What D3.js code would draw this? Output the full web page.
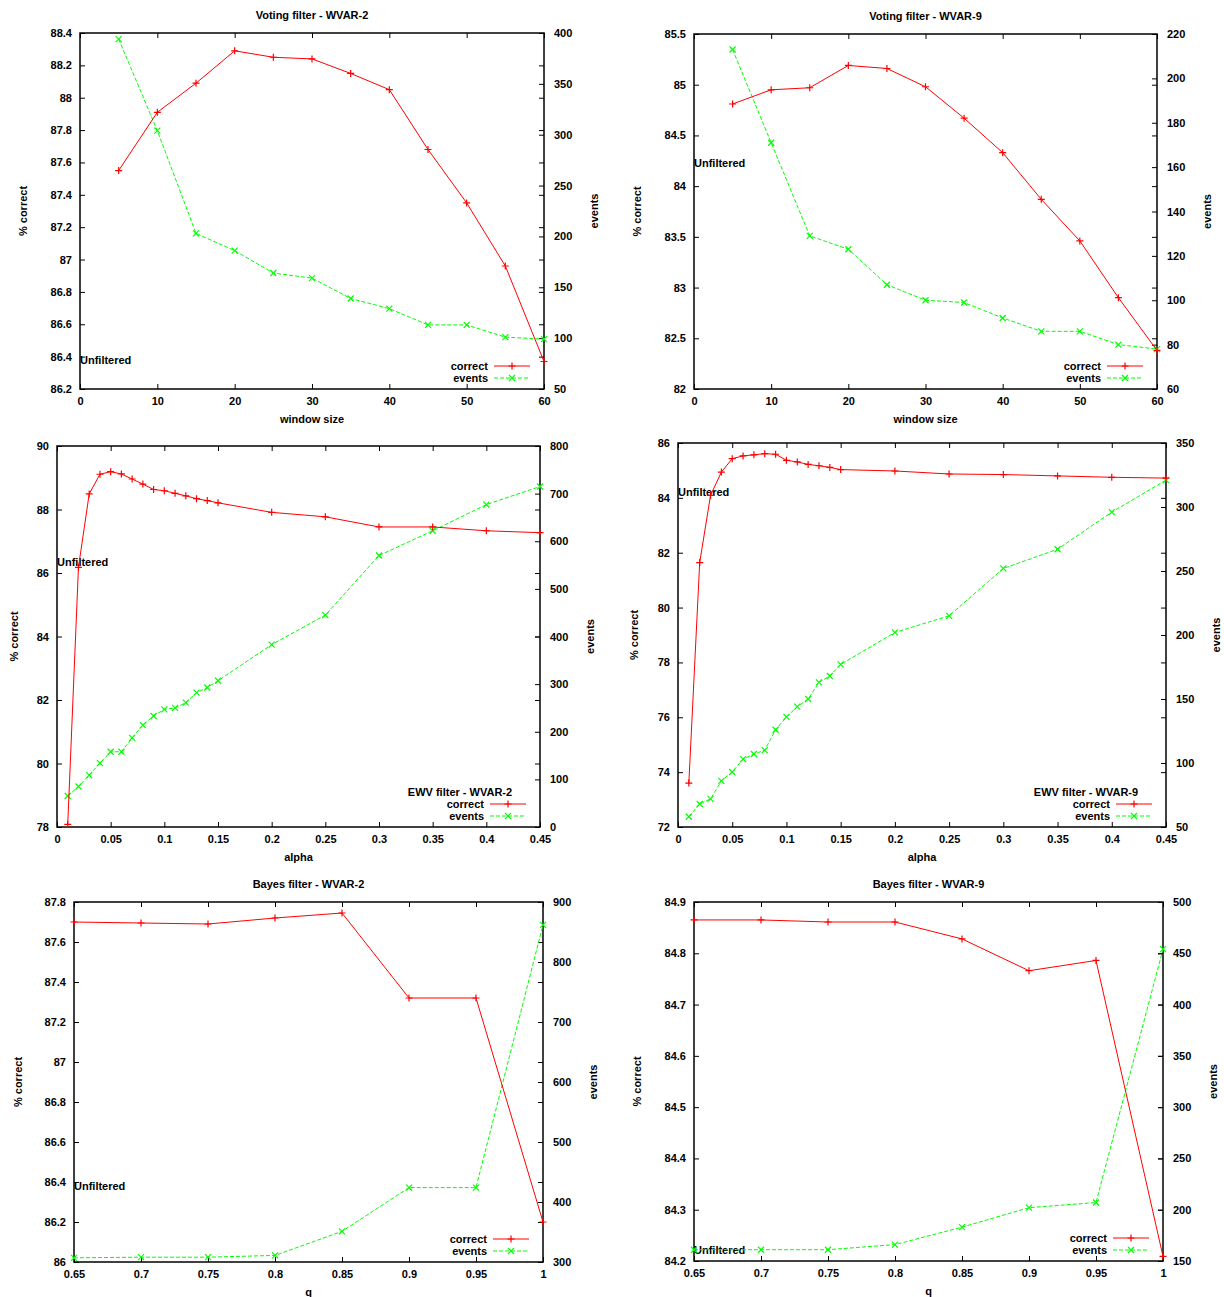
<!DOCTYPE html>
<html>
<head>
<meta charset="utf-8">
<script src="https://cdn.jsdelivr.net/npm/d3@7"></script>
<style>
  html, body { margin: 0; padding: 0; background: #fff; }
  svg { display: block; }
  text { font-family: "Liberation Sans", Arial, sans-serif; font-size: 11px; font-weight: bold; fill: #000; }
</style>
</head>
<body>
<div id="chart"></div>
<script>
// ---- data ----
const windowSize = [5, 10, 15, 20, 25, 30, 35, 40, 45, 50, 55, 60];
const voting2Correct = [87.55, 87.91, 88.09, 88.29, 88.25, 88.24, 88.15, 88.05, 87.68, 87.35, 86.96, 86.37];
const voting2Events  = [394, 304, 203, 186, 164, 159, 139, 129, 113, 113, 101, 99];
const voting2Unfiltered = 86.38;
const voting9Correct = [84.81, 84.95, 84.97, 85.19, 85.16, 84.98, 84.67, 84.33, 83.87, 83.46, 82.90, 82.38];
const voting9Events  = [213, 171, 129, 123, 107, 100, 99, 92, 86, 86, 80, 78];
const voting9Unfiltered = 84.23;

const alpha = [0.01, 0.02, 0.03, 0.04, 0.05, 0.06, 0.07, 0.08, 0.09, 0.1, 0.11, 0.12, 0.13, 0.14, 0.15,
               0.2, 0.25, 0.3, 0.35, 0.4, 0.45];
const ewv2Correct = [78.08, 86.18, 88.49, 89.11, 89.19, 89.12, 88.96, 88.80, 88.63, 88.59, 88.51, 88.43,
                     88.34, 88.28, 88.21, 87.91, 87.77, 87.45, 87.45, 87.33, 87.27];
const ewv2Events  = [65, 85, 109, 134, 158, 158, 187, 214, 233, 247, 250, 261, 282, 293, 307,
                     383, 445, 570, 622, 677, 715];
const ewv2Unfiltered = 86.35;
const ewv9Correct = [73.60, 81.64, 84.09, 84.94, 85.43, 85.53, 85.57, 85.61, 85.59, 85.37, 85.31, 85.22,
                     85.17, 85.11, 85.03, 84.98, 84.87, 84.85, 84.80, 84.75, 84.72];
const ewv9Events  = [58, 68, 72, 86, 93, 103, 107, 110, 126, 136, 144, 150, 163, 168, 177,
                     202, 215, 252, 267, 296, 321];
const ewv9Unfiltered = 84.21;

const qValues = [0.65, 0.7, 0.75, 0.8, 0.85, 0.9, 0.95, 1];
const bayes2Correct = [87.70, 87.695, 87.69, 87.72, 87.745, 87.32, 87.32, 86.20];
const bayes2Events  = [307, 308, 308, 311, 351, 424, 424, 862];
const bayes2Unfiltered = 86.38;
const bayes9Correct = [84.865, 84.865, 84.861, 84.861, 84.828, 84.766, 84.786, 84.209];
const bayes9Events  = [161, 161, 161, 166, 183, 202, 207, 454];
const bayes9Unfiltered = 84.222;

// ---- tick values ----
const windowTicks = [0, 10, 20, 30, 40, 50, 60];
const alphaTicks  = [0, 0.05, 0.1, 0.15, 0.2, 0.25, 0.3, 0.35, 0.4, 0.45];
const qTicks      = [0.65, 0.7, 0.75, 0.8, 0.85, 0.9, 0.95, 1];
const voting2Ticks  = [86.2, 86.4, 86.6, 86.8, 87, 87.2, 87.4, 87.6, 87.8, 88, 88.2, 88.4];
const voting2Ticks2 = [50, 100, 150, 200, 250, 300, 350, 400];
const voting9Ticks  = [82, 82.5, 83, 83.5, 84, 84.5, 85, 85.5];
const voting9Ticks2 = [60, 80, 100, 120, 140, 160, 180, 200, 220];
const ewv2Ticks  = [78, 80, 82, 84, 86, 88, 90];
const ewv2Ticks2 = [0, 100, 200, 300, 400, 500, 600, 700, 800];
const ewv9Ticks  = [72, 74, 76, 78, 80, 82, 84, 86];
const ewv9Ticks2 = [50, 100, 150, 200, 250, 300, 350];
const bayes2Ticks  = [86, 86.2, 86.4, 86.6, 86.8, 87, 87.2, 87.4, 87.6, 87.8];
const bayes2Ticks2 = [300, 400, 500, 600, 700, 800, 900];
const bayes9Ticks  = [84.2, 84.3, 84.4, 84.5, 84.6, 84.7, 84.8, 84.9];
const bayes9Ticks2 = [150, 200, 250, 300, 350, 400, 450, 500];

// ---- panels: data references + layout ----
const panels = [
  { title: 'Voting filter - WVAR-2', xlabel: 'window size', x: windowSize, xTicks: windowTicks,
    correct: voting2Correct, events: voting2Events, unfiltered: voting2Unfiltered,
    yTicks: voting2Ticks, y2Ticks: voting2Ticks2,
    left: 80, right: 544, top: 33, bottom: 389, ylabelDx: -57 },
  { title: 'Voting filter - WVAR-9', xlabel: 'window size', x: windowSize, xTicks: windowTicks,
    correct: voting9Correct, events: voting9Events, unfiltered: voting9Unfiltered,
    yTicks: voting9Ticks, y2Ticks: voting9Ticks2,
    left: 694, right: 1157, top: 34, bottom: 389, ylabelDx: -57 },
  { keyTitle: 'EWV filter - WVAR-2', xlabel: 'alpha', x: alpha, xTicks: alphaTicks,
    correct: ewv2Correct, events: ewv2Events, unfiltered: ewv2Unfiltered,
    yTicks: ewv2Ticks, y2Ticks: ewv2Ticks2,
    left: 57, right: 540, top: 446, bottom: 827, ylabelDx: -43 },
  { keyTitle: 'EWV filter - WVAR-9', xlabel: 'alpha', x: alpha, xTicks: alphaTicks,
    correct: ewv9Correct, events: ewv9Events, unfiltered: ewv9Unfiltered,
    yTicks: ewv9Ticks, y2Ticks: ewv9Ticks2,
    left: 678, right: 1166, top: 443, bottom: 827, ylabelDx: -44 },
  { title: 'Bayes filter - WVAR-2', xlabel: 'q', x: qValues, xTicks: qTicks,
    correct: bayes2Correct, events: bayes2Events, unfiltered: bayes2Unfiltered,
    yTicks: bayes2Ticks, y2Ticks: bayes2Ticks2,
    left: 74, right: 543, top: 902, bottom: 1262, ylabelDx: -56 },
  { title: 'Bayes filter - WVAR-9', xlabel: 'q', x: qValues, xTicks: qTicks,
    correct: bayes9Correct, events: bayes9Events, unfiltered: bayes9Unfiltered,
    yTicks: bayes9Ticks, y2Ticks: bayes9Ticks2,
    left: 694, right: 1163, top: 902, bottom: 1261, ylabelDx: -57 }
];

const RED = '#ff0000', GREEN = '#00ff00';
const TICK = 5;
const fmt = v => String(+v.toFixed(2));
const plusPath = 'M-3.5,0H3.5M0,-3.5V3.5';
const crossPath = 'M-3,-3L3,3M-3,3L3,-3';

const svg = d3.select('#chart').append('svg')
  .attr('width', 1224)
  .attr('height', 1297);

function styleAxis(g) {
  g.select('.domain').remove();
  g.attr('font-family', null).attr('font-size', null);
  g.selectAll('line').attr('stroke', '#000').attr('stroke-width', 1);
  g.selectAll('text').attr('fill', '#000');
}

function drawPanel(p) {
  const g = svg.append('g');
  const ext = d3.extent(p.xTicks);
  const x = d3.scaleLinear().domain(ext).range([p.left, p.right]);
  const y = d3.scaleLinear().domain(d3.extent(p.yTicks)).range([p.bottom, p.top]);
  const y2 = d3.scaleLinear().domain(d3.extent(p.y2Ticks)).range([p.bottom, p.top]);
  const midX = (p.left + p.right) / 2;
  const midY = (p.top + p.bottom) / 2;

  // axes (ticks pointing inward, y1 and x mirrored)
  g.append('g').attr('transform', `translate(0,${p.bottom})`)
    .call(d3.axisBottom(x).tickValues(p.xTicks).tickSize(-TICK).tickPadding(8).tickFormat(fmt))
    .call(styleAxis);
  g.append('g').attr('transform', `translate(0,${p.top})`)
    .call(d3.axisTop(x).tickValues(p.xTicks).tickSize(-TICK).tickFormat(''))
    .call(styleAxis);
  g.append('g').attr('transform', `translate(${p.left},0)`)
    .call(d3.axisLeft(y).tickValues(p.yTicks).tickSize(-TICK).tickPadding(8).tickFormat(fmt))
    .call(styleAxis);
  g.append('g').attr('transform', `translate(${p.right},0)`)
    .call(d3.axisRight(y).tickValues(p.yTicks).tickSize(-TICK).tickFormat(''))
    .call(styleAxis);
  g.append('g').attr('transform', `translate(${p.right},0)`)
    .call(d3.axisRight(y2).tickValues(p.y2Ticks).tickSize(-TICK).tickPadding(10).tickFormat(fmt))
    .call(styleAxis);

  // border
  g.append('rect')
    .attr('x', p.left).attr('y', p.top)
    .attr('width', p.right - p.left).attr('height', p.bottom - p.top)
    .attr('fill', 'none').attr('stroke', '#000').attr('stroke-width', 1.5);

  // labels
  if (p.title) {
    g.append('text').attr('x', midX).attr('y', p.top - 18)
      .attr('text-anchor', 'middle').attr('dy', '0.35em').text(p.title);
  }
  g.append('text').attr('x', midX).attr('y', p.bottom + 30)
    .attr('text-anchor', 'middle').attr('dy', '0.35em').text(p.xlabel);
  g.append('text')
    .attr('transform', `translate(${p.left + p.ylabelDx},${midY}) rotate(-90)`)
    .attr('text-anchor', 'middle').attr('dy', '0.35em').text('% correct');
  g.append('text')
    .attr('transform', `translate(${p.right + 50},${midY}) rotate(-90)`)
    .attr('text-anchor', 'middle').attr('dy', '0.35em').text('events');

  g.append('text').attr('x', p.left).attr('y', y(p.unfiltered))
    .attr('dy', '0.35em').text('Unfiltered');

  // series
  const rows = p.x.map((v, i) => ({ x: v, c: p.correct[i], e: p.events[i] }));
  const plot = g.append('g');

  plot.append('path').datum(rows)
    .attr('fill', 'none').attr('stroke', GREEN).attr('stroke-width', 1)
    .attr('stroke-dasharray', '4,2')
    .attr('d', d3.line().x(d => x(d.x)).y(d => y2(d.e)));
  plot.selectAll('.ev').data(rows).enter().append('path')
    .attr('class', 'ev')
    .attr('transform', d => `translate(${x(d.x)},${y2(d.e)})`)
    .attr('d', crossPath).attr('stroke', GREEN).attr('stroke-width', 1.2).attr('fill', 'none');

  plot.append('path').datum(rows)
    .attr('fill', 'none').attr('stroke', RED).attr('stroke-width', 1)
    .attr('d', d3.line().x(d => x(d.x)).y(d => y(d.c)));
  plot.selectAll('.co').data(rows).enter().append('path')
    .attr('class', 'co')
    .attr('transform', d => `translate(${x(d.x)},${y(d.c)})`)
    .attr('d', plusPath).attr('stroke', RED).attr('stroke-width', 1.2).attr('fill', 'none');

  // key (bottom right)
  const key = g.append('g');
  if (p.keyTitle) {
    key.append('text').attr('x', p.right - 80).attr('y', p.bottom - 35)
      .attr('text-anchor', 'middle').attr('dy', '0.35em').text(p.keyTitle);
  }
  const entries = [
    { label: 'correct', color: RED, dash: null, mark: plusPath, dy: -23 },
    { label: 'events', color: GREEN, dash: '4,2', mark: crossPath, dy: -11 }
  ];
  entries.forEach(en => {
    const ky = p.bottom + en.dy;
    key.append('text').attr('x', p.right - 56).attr('y', ky)
      .attr('text-anchor', 'end').attr('dy', '0.35em').text(en.label);
    key.append('line')
      .attr('x1', p.right - 50).attr('x2', p.right - 14).attr('y1', ky).attr('y2', ky)
      .attr('stroke', en.color).attr('stroke-width', 1).attr('stroke-dasharray', en.dash);
    key.append('path').attr('transform', `translate(${p.right - 32},${ky})`)
      .attr('d', en.mark).attr('stroke', en.color).attr('stroke-width', 1.2).attr('fill', 'none');
  });
}

panels.forEach(drawPanel);
</script>
</body>
</html>
